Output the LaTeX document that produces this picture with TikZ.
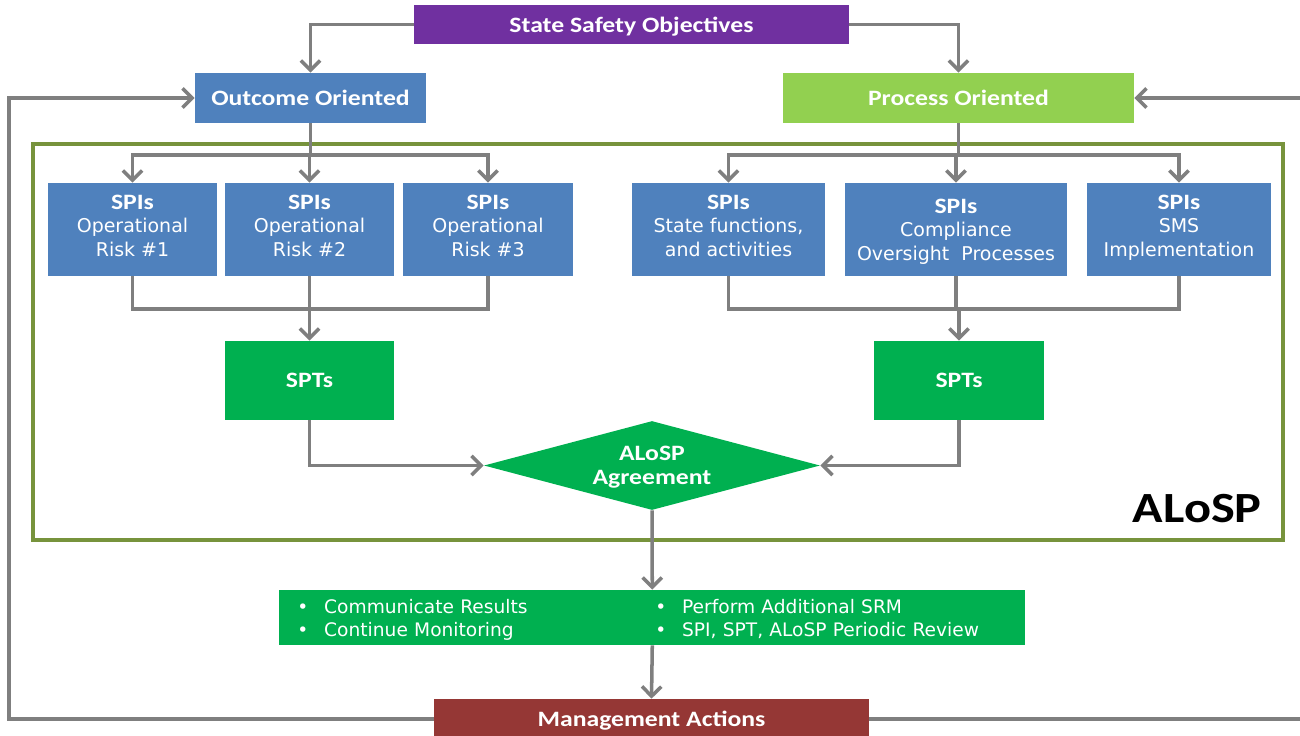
\documentclass[tikz,border=0pt]{standalone}
\usepackage{fontspec}
\setmainfont{DejaVu Sans}
\newfontfamily\headfont[FakeStretch=1.17]{Carlito}
\usetikzlibrary{arrows.meta,shapes.geometric}
\definecolor{ssopurple}{HTML}{7030A0}
\definecolor{spiblue}{HTML}{4F81BD}
\definecolor{proclime}{HTML}{92D050}
\definecolor{sptgreen}{HTML}{00B050}
\definecolor{mgmtred}{HTML}{953735}
\definecolor{frameolive}{HTML}{77933C}
\definecolor{linegray}{HTML}{7F7F7F}
\newcommand{\spititle}{{\headfont\bfseries\fontsize{12.5}{13.3}\selectfont SPIs}}
\newcommand{\resitem}[1]{\makebox[15.3pt][l]{\textbullet}#1}

\begin{document}
\begin{tikzpicture}[
    x=0.02cm, y=-0.02cm,
    font=\fontsize{10.8}{13.3}\selectfont,
    box/.style={inner sep=0pt, align=center, text=white},
    head/.style={box, text depth=0pt, font=\headfont\bfseries\fontsize{12.5}{13.6}\selectfont},
    spi/.style={box, fill=spiblue, minimum height=1.86cm, text depth=4.6pt},
    spt/.style={head, fill=sptgreen, minimum height=1.58cm},
    link/.style={draw=linegray, line width=2pt},
    flow/.style={link, -{Straight Barb[length=5.5pt,width=11pt]}},
    frame/.style={draw=frameolive, line width=2pt}
]
\useasboundingbox (0,0) rectangle (1300,735);
% ALoSP frame
\draw[frame] (33,144) rectangle (1283,540);
\node[font=\headfont\bfseries\fontsize{24.5}{25}\selectfont, anchor=base east,
    inner sep=0pt] (alosplabel) at (1262,522) {ALoSP};
% objectives
\node[head, fill=ssopurple, minimum width=8.7cm, minimum height=0.78cm] (sso)
    at (631.5,24.5) {State Safety Objectives};
\node[head, fill=spiblue, minimum width=4.62cm, minimum height=1cm] (outcome)
    at (310.5,98) {Outcome Oriented};
\node[head, fill=proclime, minimum width=7.02cm, minimum height=1cm] (process)
    at (958.5,98) {Process Oriented};
% SPIs
\node[spi, minimum width=3.38cm] (risk1) at (132.5,229.5)
    {\spititle\\Operational\\Risk \#1};
\node[spi, minimum width=3.38cm] (risk2) at (309.5,229.5)
    {\spititle\\Operational\\Risk \#2};
\node[spi, minimum width=3.4cm] (risk3) at (488,229.5)
    {\spititle\\Operational\\Risk \#3};
\node[spi, minimum width=3.86cm] (statefn) at (728.5,229.5)
    {\spititle\\State functions,\\and activities};
\node[spi, minimum width=4.44cm, text depth=0pt] (compl) at (956,229.5)
    {\spititle\\Compliance\\Oversight~ Processes};
\node[spi, minimum width=3.68cm] (sms) at (1179,229.5)
    {\spititle\\SMS\\Implementation};
% SPTs and agreement
\node[spt, minimum width=3.38cm] (sptL) at (309.5,380.5) {SPTs};
\node[spt, minimum width=3.4cm] (sptR) at (959,380.5) {SPTs};
\node[head, diamond, fill=sptgreen, minimum width=6.72cm, minimum height=1.78cm,
    aspect=3.78] (agree) at (652,465.5) {ALoSP\\Agreement};
% results and actions
\node[box, anchor=west, align=left, fill=sptgreen, text width=14.2cm,
    inner xsep=0.36cm, minimum height=1.1cm, font=\fontsize{10.6}{13}\selectfont]
    (results) at (279,617.5)
    {\rule{0pt}{11pt}\makebox[7.16cm][l]{\resitem{Communicate Results}}\resitem{Perform Additional SRM}\\
     \makebox[7.16cm][l]{\resitem{Continue Monitoring}}\resitem{SPI, SPT, ALoSP Periodic Review}};
\node[head, fill=mgmtred, minimum width=8.7cm, minimum height=0.8cm] (mgmt)
    at (651.5,719) {Management Actions};
% connectors
\draw[flow] (sso.west) -| (outcome.north);
\draw[flow] (sso.east) -| (process.north);
\coordinate (obar) at (310.5,155);
\coordinate (pbar) at (958.5,155);
\draw[link] (outcome.south) -- (obar);
\draw[link] (process.south) -- (pbar);
\foreach \b in {risk1,risk2,risk3}
    \draw[flow] (obar) -| (\b.north);
\foreach \b in {statefn,compl,sms}
    \draw[flow] (pbar) -| (\b.north);
\coordinate (ojoin) at (309.5,309);
\coordinate (pjoin) at (959,309);
\foreach \b in {risk1,risk2,risk3}
    \draw[link] (\b.south) |- (ojoin);
\foreach \b in {statefn,compl,sms}
    \draw[link] (\b.south) |- (pjoin);
\draw[flow] (ojoin) -- (sptL.north);
\draw[flow] (pjoin) -- (sptR.north);
\draw[flow] (sptL.south) |- (agree.west);
\draw[flow] (sptR.south) |- (agree.east);
\draw[flow] (agree.south) -- (results.north);
\draw[flow] (results.south) -- (mgmt.north);
% feedback loops
\coordinate (loopL) at (9,719);
\coordinate (loopR) at (1312,719);
\draw[flow] (mgmt.west) -- (loopL) |- (outcome.west);
\draw[flow] (mgmt.east) -- (loopR) |- (process.east);
\end{tikzpicture}
\end{document}
